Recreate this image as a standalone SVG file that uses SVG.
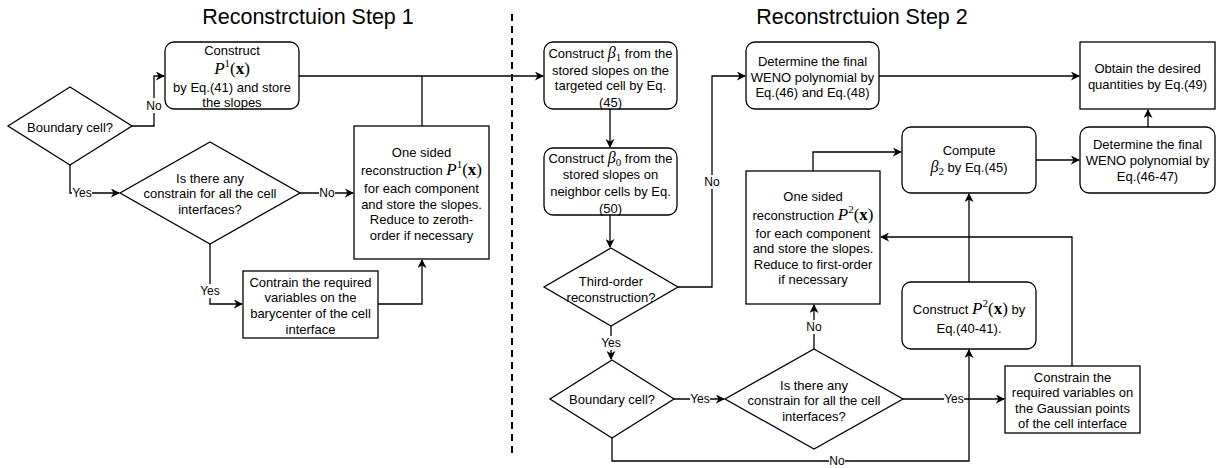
<svg xmlns="http://www.w3.org/2000/svg" width="1223" height="468" viewBox="0 0 1223 468">
<defs>
<marker id="arr" viewBox="0 0 10 10" refX="9" refY="5" markerWidth="9" markerHeight="9" markerUnits="userSpaceOnUse" orient="auto">
<path d="M0,0 L10,5 L0,10 L3,5 z" fill="#000"/>
</marker>
<style>
.box{fill:#fff;stroke:#000;stroke-width:1.3}
.c{fill:none;stroke:#000;stroke-width:1.3}
.a{marker-end:url(#arr)}
text{font-family:"Liberation Sans",Arial,sans-serif;font-size:13px;fill:#000;text-anchor:middle}
.title{font-size:21.5px}
.lbl{font-size:12px}
.lb{fill:#fff}
.m{font-family:"Liberation Serif","Times New Roman",serif;font-size:17px}
.mg{font-family:"Liberation Serif","Times New Roman",serif;font-size:16px;font-style:italic}
.mi{font-style:italic}
.mb{font-weight:bold}
.sup{font-family:"Liberation Serif","Times New Roman",serif;font-size:11px}
</style>
</defs>
<rect width="1223" height="468" fill="#fff"/>
<text class="title" x="308" y="24">Reconstrctuion Step 1</text>
<text class="title" x="862" y="24">Reconstrctuion Step 2</text>
<line x1="512" y1="14" x2="512" y2="457" stroke="#000" stroke-width="2" stroke-dasharray="7 5"/>

<g id="connectors">
<path class="c a" d="M132,126 H154 V76 H164"/>
<path class="c a" d="M70,165 V193 H119"/>
<path class="c a" d="M300,193 H353"/>
<path class="c a" d="M210,244 V304 H242"/>
<path class="c a" d="M378,304 H422 V260"/>
<path class="c a" d="M299,76 H543"/>
<path class="c" d="M422,126 V76"/>
<path class="c a" d="M610,109 V147"/>
<path class="c a" d="M610,215 V247"/>
<path class="c a" d="M678,287 H712 V76 H745"/>
<path class="c a" d="M879,76 H1079"/>
<path class="c a" d="M611,326 V359"/>
<path class="c a" d="M674,399 H724"/>
<path class="c a" d="M903,399 H1004"/>
<path class="c a" d="M612,438 V461 H969 V350"/>
<path class="c a" d="M814,349 V305"/>
<path class="c a" d="M1072,366 V237 H881"/>
<path class="c a" d="M969,282 V194"/>
<path class="c a" d="M813,171 V152 H901"/>
<path class="c a" d="M1036,160 H1079"/>
<path class="c a" d="M1148,127 V110"/>
<g id="labels">
<rect class="lb" x="146" y="98" width="16" height="15"/><text class="lbl" x="154" y="110">No</text>
<rect class="lb" x="72" y="186" width="20" height="14"/><text class="lbl" x="82" y="197">Yes</text>
<rect class="lb" x="319" y="186" width="16" height="14"/><text class="lbl" x="327" y="197">No</text>
<rect class="lb" x="200" y="284" width="20" height="14"/><text class="lbl" x="210" y="295">Yes</text>
<rect class="lb" x="704" y="175" width="16" height="14"/><text class="lbl" x="712" y="186">No</text>
<rect class="lb" x="601" y="336" width="20" height="14"/><text class="lbl" x="611" y="347">Yes</text>
<rect class="lb" x="690" y="392" width="20" height="14"/><text class="lbl" x="700" y="403">Yes</text>
<rect class="lb" x="944" y="392" width="20" height="14"/><text class="lbl" x="954" y="403">Yes</text>
<rect class="lb" x="829" y="454" width="16" height="14"/><text class="lbl" x="837" y="465">No</text>
<rect class="lb" x="806" y="320" width="16" height="14"/><text class="lbl" x="814" y="331">No</text>
</g>
</g>

<g id="n-construct-p1">
<rect class="box" x="165" y="42" width="134" height="67" rx="9"/>
<text x="232" y="54.5">Construct</text>
<text x="232" y="74"><tspan class="m mi">P</tspan><tspan class="sup" dy="-7">1</tspan><tspan class="m" dy="7">(</tspan><tspan class="m mb">x</tspan><tspan class="m">)</tspan></text>
<text x="232" y="91.5">by Eq.(41) and store</text>
<text x="232" y="106.5">the slopes</text>
</g>
<g id="n-boundary1">
<polygon class="box" points="70,87 132,126 70,165 8,126"/>
<text x="70" y="132">Boundary cell?</text>
</g>
<g id="n-constrain-q1">
<polygon class="box" points="210,142 300,193 210,244 120,193"/>
<text x="210" y="182.5">Is there any</text>
<text x="210" y="197.5">constrain for all the cell</text>
<text x="210" y="213.5">interfaces?</text>
</g>
<g id="n-onesided1">
<rect class="box" x="354" y="126" width="135" height="133"/>
<text x="421.5" y="156.5">One sided</text>
<text x="421.5" y="175">reconstruction <tspan class="m mi">P</tspan><tspan class="sup" dy="-7">1</tspan><tspan class="m" dy="7">(</tspan><tspan class="m mb">x</tspan><tspan class="m">)</tspan></text>
<text x="421.5" y="192.5">for each component</text>
<text x="421.5" y="208.5">and store the slopes.</text>
<text x="421.5" y="223.5">Reduce to zeroth-</text>
<text x="421.5" y="239.5">order if necessary</text>
</g>
<g id="n-contrain1">
<rect class="box" x="243" y="271" width="135" height="67"/>
<text x="310.5" y="286.5">Contrain the required</text>
<text x="310.5" y="301.5">variables on the</text>
<text x="310.5" y="317.5">barycenter of the cell</text>
<text x="310.5" y="333.5">interface</text>
</g>

<g id="n-beta1">
<rect class="box" x="544" y="42" width="133" height="67" rx="9"/>
<text x="610.5" y="57.5">Construct <tspan class="mg">β</tspan><tspan class="sup" dy="3">1</tspan><tspan dy="-3">  from the</tspan></text>
<text x="610.5" y="74.5">stored slopes on the</text>
<text x="610.5" y="89.5">targeted cell by Eq.</text>
<text x="610.5" y="106.5">(45)</text>
</g>
<g id="n-beta0">
<rect class="box" x="544" y="148" width="133" height="67" rx="9"/>
<text x="610.5" y="162.5">Construct <tspan class="mg">β</tspan><tspan class="sup" dy="3">0</tspan><tspan dy="-3">  from the</tspan></text>
<text x="610.5" y="178.5">stored slopes on</text>
<text x="610.5" y="195.5">neighbor cells by Eq.</text>
<text x="610.5" y="212.5">(50)</text>
</g>
<g id="n-thirdorder">
<polygon class="box" points="611,248 678,287 611,326 544,287"/>
<text x="611" y="285.5">Third-order</text>
<text x="611" y="301.5">reconstruction?</text>
</g>
<g id="n-determine1">
<rect class="box" x="746" y="42" width="133" height="67" rx="9"/>
<text x="812.5" y="65.5">Determine the final</text>
<text x="812.5" y="81.5">WENO polynomial by</text>
<text x="812.5" y="96.5">Eq.(46) and Eq.(48)</text>
</g>
<g id="n-obtain">
<rect class="box" x="1080" y="42" width="135" height="67"/>
<text x="1147.5" y="72.5">Obtain the desired</text>
<text x="1147.5" y="88.5">quantities by Eq.(49)</text>
</g>
<g id="n-determine2">
<rect class="box" x="1080" y="127" width="135" height="66" rx="9"/>
<text x="1147.5" y="148.5">Determine the final</text>
<text x="1147.5" y="164.5">WENO polynomial by</text>
<text x="1147.5" y="180.5">Eq.(46-47)</text>
</g>
<g id="n-compute">
<rect class="box" x="902" y="127" width="134" height="66" rx="9"/>
<text x="969" y="154.5">Compute</text>
<text x="969" y="171.5"><tspan class="mg">β</tspan><tspan class="sup" dy="3">2</tspan><tspan dy="-3">  by Eq.(45)</tspan></text>
</g>
<g id="n-onesided2">
<rect class="box" x="746" y="171" width="134" height="133"/>
<text x="813" y="200.5">One sided</text>
<text x="813" y="220">reconstruction <tspan class="m mi">P</tspan><tspan class="sup" dy="-7">2</tspan><tspan class="m" dy="7">(</tspan><tspan class="m mb">x</tspan><tspan class="m">)</tspan></text>
<text x="813" y="237.5">for each component</text>
<text x="813" y="252.5">and store the slopes.</text>
<text x="813" y="268.5">Reduce to first-order</text>
<text x="813" y="283.5">if necessary</text>
</g>
<g id="n-construct-p2">
<rect class="box" x="902" y="282" width="134" height="67" rx="9"/>
<text x="969" y="314">Construct <tspan class="m mi">P</tspan><tspan class="sup" dy="-7">2</tspan><tspan class="m" dy="7">(</tspan><tspan class="m mb">x</tspan><tspan class="m">)</tspan> by</text>
<text x="969" y="332.5">Eq.(40-41).</text>
</g>
<g id="n-boundary2">
<polygon class="box" points="612,360 674,399 612,438 550,399"/>
<text x="612" y="404">Boundary cell?</text>
</g>
<g id="n-constrain-q2">
<polygon class="box" points="814,349 903,399 814,449 725,399"/>
<text x="814" y="389.5">Is there any</text>
<text x="814" y="404.5">constrain for all the cell</text>
<text x="814" y="420.5">interfaces?</text>
</g>
<g id="n-contrain2">
<rect class="box" x="1005" y="366" width="135" height="67"/>
<text x="1072.5" y="381.5">Constrain the</text>
<text x="1072.5" y="396.5">required variables on</text>
<text x="1072.5" y="412.5">the Gaussian points</text>
<text x="1072.5" y="427.5">of the cell interface</text>
</g>
</svg>
